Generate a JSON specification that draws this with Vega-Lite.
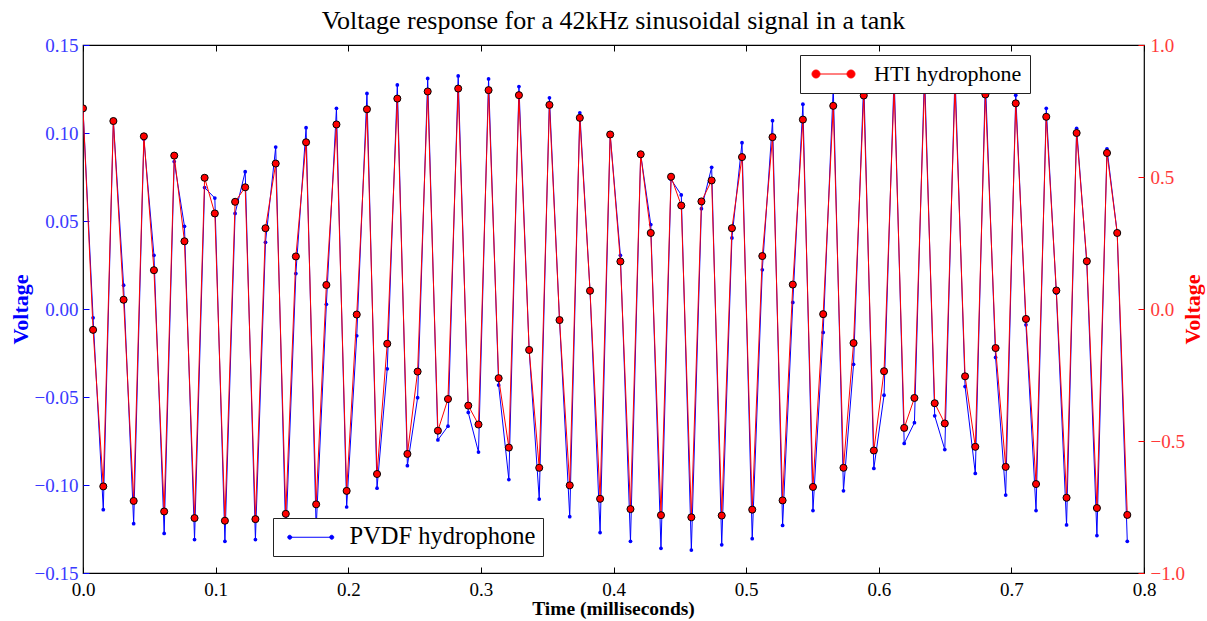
{
  "$schema": "https://vega.github.io/schema/vega-lite/v6.json",
  "width": 1061,
  "height": 528,
  "autosize": {"type": "none"},
  "padding": {"left": 83, "top": 45, "right": 63, "bottom": 48},
  "background": "white",
  "title": {"text": "Voltage response for a 42kHz sinusoidal signal in a tank", "font": "Liberation Serif", "fontSize": 26, "fontWeight": "normal", "color": "black", "anchor": "middle", "offset": 2},
  "config": {"view": {"stroke": "black", "strokeWidth": 1.2}},
  "data": {"values": [
    {"t": 0.0000, "pvdf": 0.114, "hti": 0.760},
    {"t": 0.0076, "pvdf": -0.005, "hti": -0.079},
    {"t": 0.0153, "pvdf": -0.114, "hti": -0.672},
    {"t": 0.0229, "pvdf": 0.107, "hti": 0.712},
    {"t": 0.0306, "pvdf": 0.0135, "hti": 0.035},
    {"t": 0.0382, "pvdf": -0.122, "hti": -0.727},
    {"t": 0.0459, "pvdf": 0.0965, "hti": 0.654},
    {"t": 0.0535, "pvdf": 0.0305, "hti": 0.147},
    {"t": 0.0612, "pvdf": -0.1275, "hti": -0.767},
    {"t": 0.0688, "pvdf": 0.0838, "hti": 0.581},
    {"t": 0.0765, "pvdf": 0.047, "hti": 0.2565},
    {"t": 0.0841, "pvdf": -0.131, "hti": -0.792},
    {"t": 0.0917, "pvdf": 0.069, "hti": 0.497},
    {"t": 0.0994, "pvdf": 0.063, "hti": 0.362},
    {"t": 0.1070, "pvdf": -0.132, "hti": -0.802},
    {"t": 0.1147, "pvdf": 0.0543, "hti": 0.406},
    {"t": 0.1223, "pvdf": 0.078, "hti": 0.461},
    {"t": 0.1300, "pvdf": -0.131, "hti": -0.796},
    {"t": 0.1376, "pvdf": 0.0379, "hti": 0.306},
    {"t": 0.1453, "pvdf": 0.092, "hti": 0.551},
    {"t": 0.1529, "pvdf": -0.13, "hti": -0.776},
    {"t": 0.1605, "pvdf": 0.0201, "hti": 0.199},
    {"t": 0.1682, "pvdf": 0.103, "hti": 0.6315},
    {"t": 0.1758, "pvdf": -0.125, "hti": -0.740},
    {"t": 0.1835, "pvdf": 0.0027, "hti": 0.091},
    {"t": 0.1911, "pvdf": 0.114, "hti": 0.699},
    {"t": 0.1988, "pvdf": -0.1125, "hti": -0.689},
    {"t": 0.2064, "pvdf": -0.0152, "hti": -0.021},
    {"t": 0.2141, "pvdf": 0.1225, "hti": 0.7565},
    {"t": 0.2217, "pvdf": -0.1018, "hti": -0.625},
    {"t": 0.2294, "pvdf": -0.034, "hti": -0.1315},
    {"t": 0.2370, "pvdf": 0.1273, "hti": 0.797},
    {"t": 0.2446, "pvdf": -0.089, "hti": -0.549},
    {"t": 0.2523, "pvdf": -0.0504, "hti": -0.237},
    {"t": 0.2599, "pvdf": 0.131, "hti": 0.824},
    {"t": 0.2676, "pvdf": -0.0744, "hti": -0.461},
    {"t": 0.2752, "pvdf": -0.0666, "hti": -0.341},
    {"t": 0.2829, "pvdf": 0.1324, "hti": 0.835},
    {"t": 0.2905, "pvdf": -0.0588, "hti": -0.366},
    {"t": 0.2982, "pvdf": -0.0813, "hti": -0.4375},
    {"t": 0.3058, "pvdf": 0.1307, "hti": 0.829},
    {"t": 0.3134, "pvdf": -0.0432, "hti": -0.262},
    {"t": 0.3211, "pvdf": -0.0969, "hti": -0.525},
    {"t": 0.3287, "pvdf": 0.1264, "hti": 0.810},
    {"t": 0.3364, "pvdf": -0.0233, "hti": -0.155},
    {"t": 0.3440, "pvdf": -0.108, "hti": -0.6015},
    {"t": 0.3517, "pvdf": 0.120, "hti": 0.773},
    {"t": 0.3593, "pvdf": -0.0063, "hti": -0.042},
    {"t": 0.3670, "pvdf": -0.118, "hti": -0.668},
    {"t": 0.3746, "pvdf": 0.1115, "hti": 0.724},
    {"t": 0.3823, "pvdf": 0.0104, "hti": 0.069},
    {"t": 0.3899, "pvdf": -0.127, "hti": -0.719},
    {"t": 0.3975, "pvdf": 0.0992, "hti": 0.661},
    {"t": 0.4052, "pvdf": 0.0305, "hti": 0.180},
    {"t": 0.4128, "pvdf": -0.132, "hti": -0.758},
    {"t": 0.4205, "pvdf": 0.0879, "hti": 0.586},
    {"t": 0.4281, "pvdf": 0.048, "hti": 0.288},
    {"t": 0.4358, "pvdf": -0.136, "hti": -0.781},
    {"t": 0.4434, "pvdf": 0.0736, "hti": 0.501},
    {"t": 0.4511, "pvdf": 0.0648, "hti": 0.392},
    {"t": 0.4587, "pvdf": -0.137, "hti": -0.789},
    {"t": 0.4663, "pvdf": 0.057, "hti": 0.4075},
    {"t": 0.4740, "pvdf": 0.0805, "hti": 0.487},
    {"t": 0.4816, "pvdf": -0.134, "hti": -0.7825},
    {"t": 0.4893, "pvdf": 0.0404, "hti": 0.306},
    {"t": 0.4969, "pvdf": 0.0945, "hti": 0.5755},
    {"t": 0.5046, "pvdf": -0.1305, "hti": -0.760},
    {"t": 0.5122, "pvdf": 0.0223, "hti": 0.2005},
    {"t": 0.5199, "pvdf": 0.107, "hti": 0.651},
    {"t": 0.5275, "pvdf": -0.123, "hti": -0.725},
    {"t": 0.5352, "pvdf": 0.0037, "hti": 0.0925},
    {"t": 0.5428, "pvdf": 0.1164, "hti": 0.7175},
    {"t": 0.5504, "pvdf": -0.1145, "hti": -0.674},
    {"t": 0.5581, "pvdf": -0.0133, "hti": -0.0195},
    {"t": 0.5657, "pvdf": 0.126, "hti": 0.7695},
    {"t": 0.5734, "pvdf": -0.1033, "hti": -0.6015},
    {"t": 0.5810, "pvdf": -0.0314, "hti": -0.129},
    {"t": 0.5887, "pvdf": 0.130, "hti": 0.8086},
    {"t": 0.5963, "pvdf": -0.0906, "hti": -0.536},
    {"t": 0.6040, "pvdf": -0.049, "hti": -0.2357},
    {"t": 0.6116, "pvdf": 0.133, "hti": 0.84},
    {"t": 0.6192, "pvdf": -0.0764, "hti": -0.4505},
    {"t": 0.6269, "pvdf": -0.0646, "hti": -0.337},
    {"t": 0.6345, "pvdf": 0.135, "hti": 0.85},
    {"t": 0.6422, "pvdf": -0.0607, "hti": -0.357},
    {"t": 0.6498, "pvdf": -0.0799, "hti": -0.4336},
    {"t": 0.6575, "pvdf": 0.134, "hti": 0.845},
    {"t": 0.6651, "pvdf": -0.0441, "hti": -0.255},
    {"t": 0.6728, "pvdf": -0.0934, "hti": -0.522},
    {"t": 0.6804, "pvdf": 0.130, "hti": 0.8125},
    {"t": 0.6881, "pvdf": -0.0275, "hti": -0.148},
    {"t": 0.6957, "pvdf": -0.1057, "hti": -0.598},
    {"t": 0.7033, "pvdf": 0.1215, "hti": 0.779},
    {"t": 0.7110, "pvdf": -0.009, "hti": -0.0378},
    {"t": 0.7186, "pvdf": -0.1145, "hti": -0.663},
    {"t": 0.7263, "pvdf": 0.114, "hti": 0.728},
    {"t": 0.7339, "pvdf": 0.009, "hti": 0.070},
    {"t": 0.7416, "pvdf": -0.1227, "hti": -0.715},
    {"t": 0.7492, "pvdf": 0.1027, "hti": 0.6667},
    {"t": 0.7569, "pvdf": 0.0258, "hti": 0.181},
    {"t": 0.7645, "pvdf": -0.1287, "hti": -0.754},
    {"t": 0.7721, "pvdf": 0.091, "hti": 0.591},
    {"t": 0.7798, "pvdf": 0.0432, "hti": 0.288},
    {"t": 0.7874, "pvdf": -0.132, "hti": -0.780}
  ]},
  "layer": [
    {
      "mark": {"type": "line", "strokeWidth": 1, "clip": true, "point": {"filled": true, "size": 14, "color": "blue"}},
      "encoding": {
        "x": {"field": "t", "type": "quantitative", "scale": {"domain": [0, 0.8], "nice": false, "zero": false},
          "axis": {"orient": "bottom", "values": [0, 0.1, 0.2, 0.3, 0.4, 0.5, 0.6, 0.7, 0.8], "format": ".1f", "domain": false, "grid": false, "tickColor": "black", "tickSize": -6, "tickWidth": 1, "labelPadding": 13, "labelFont": "Liberation Serif", "labelFontSize": 19, "labelColor": "black", "labelFlush": false, "labelOverlap": false, "labelBound": false,
            "title": "Time (milliseconds)", "titleFont": "Liberation Serif", "titleFontSize": 19.5, "titleFontWeight": "bold", "titleColor": "black", "titleX": 530, "titleY": 35, "titleAlign": "center", "titleBaseline": "middle"}},
        "y": {"field": "pvdf", "type": "quantitative", "scale": {"domain": [-0.15, 0.15], "nice": false, "zero": false},
          "axis": {"orient": "left", "values": [-0.15, -0.1, -0.05, 0, 0.05, 0.1, 0.15], "format": ".2f", "domain": false, "grid": false, "tickColor": "blue", "tickSize": -6, "tickWidth": 1, "labelPadding": 11, "labelFont": "Liberation Serif", "labelFontSize": 19, "labelColor": "#3a3aff", "labelFlush": false, "labelOverlap": false, "labelBound": false,
            "title": "Voltage", "titleFont": "Liberation Serif", "titleFontSize": 22, "titleFontWeight": "bold", "titleColor": "blue", "titleX": -63, "titleY": 264, "titleAngle": 270, "titleAlign": "center", "titleBaseline": "middle"}},
        "color": {"datum": "PVDF hydrophone", "scale": {"domain": ["PVDF hydrophone"], "range": ["blue"]},
          "legend": {"orient": "none", "legendX": 190, "legendY": 473, "title": null, "fillColor": "white", "strokeColor": "#222222", "cornerRadius": 0, "padding": 7,
            "symbolType": "M-2,0H2M-2.19,0A0.19,0.19,0,1,0,-1.81,0A0.19,0.19,0,1,0,-2.19,0M1.81,0A0.19,0.19,0,1,0,2.19,0A0.19,0.19,0,1,0,1.81,0",
            "symbolSize": 441, "symbolFillColor": "blue", "symbolStrokeColor": "blue", "symbolStrokeWidth": 1, "symbolOffset": 18.5, "labelOffset": 26.5,
            "labelFont": "Liberation Serif", "labelFontSize": 24.5, "labelColor": "black", "labelLimit": 400}}
      }
    },
    {
      "mark": {"type": "line", "strokeWidth": 1, "clip": true, "point": {"filled": true, "size": 50, "stroke": "black", "strokeWidth": 1}},
      "encoding": {
        "x": {"field": "t", "type": "quantitative",
          "axis": {"orient": "top", "values": [0, 0.1, 0.2, 0.3, 0.4, 0.5, 0.6, 0.7, 0.8], "domain": false, "grid": false, "labels": false, "tickColor": "black", "tickSize": -6, "tickWidth": 1, "title": null}},
        "y": {"field": "hti", "type": "quantitative", "scale": {"domain": [-1, 1], "nice": false, "zero": false},
          "axis": {"orient": "right", "values": [-1, -0.5, 0, 0.5, 1], "format": ".1f", "domain": false, "grid": false, "tickColor": "red", "tickSize": -6, "tickWidth": 1, "labelPadding": 12, "labelFont": "Liberation Serif", "labelFontSize": 19, "labelColor": "#ff3a3a", "labelFlush": false, "labelOverlap": false, "labelBound": false,
            "title": "Voltage", "titleFont": "Liberation Serif", "titleFontSize": 22, "titleFontWeight": "bold", "titleColor": "red", "titleX": 48, "titleY": 264, "titleAngle": 270, "titleAlign": "center", "titleBaseline": "middle"}},
        "color": {"datum": "HTI hydrophone", "scale": {"domain": ["HTI hydrophone"], "range": ["red"]},
          "legend": {"orient": "none", "legendX": 717, "legendY": 10, "title": null, "fillColor": "white", "strokeColor": "#222222", "cornerRadius": 0, "padding": 8,
            "symbolType": "M-1.75,0H1.75M-2.15,0A0.4,0.4,0,1,0,-1.35,0A0.4,0.4,0,1,0,-2.15,0M1.35,0A0.4,0.4,0,1,0,2.15,0A0.4,0.4,0,1,0,1.35,0",
            "symbolSize": 400, "symbolFillColor": "red", "symbolStrokeColor": "red", "symbolStrokeWidth": 1, "symbolOffset": 14.5, "labelOffset": 29.5,
            "labelFont": "Liberation Serif", "labelFontSize": 22, "labelColor": "black", "labelLimit": 400}}
      }
    }
  ],
  "resolve": {"scale": {"y": "independent", "color": "independent"}, "axis": {"x": "independent"}}
}
